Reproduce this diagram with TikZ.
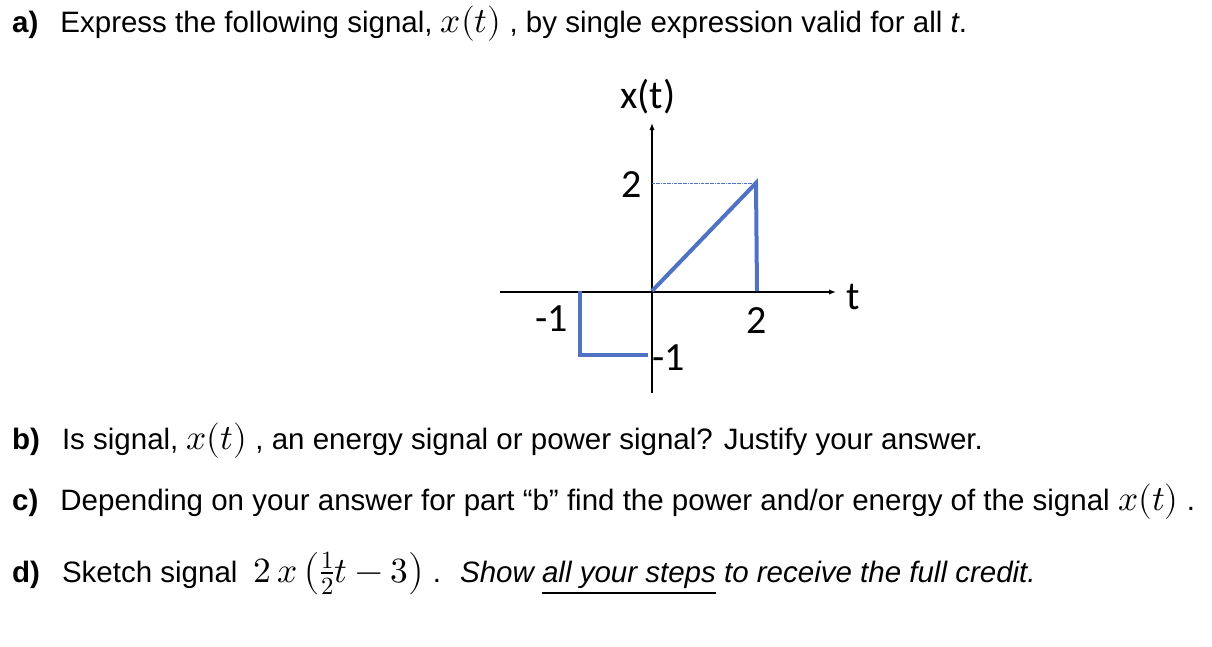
\documentclass[tikz,border=0pt]{standalone}
\usepackage{fontspec}
\setmainfont{Liberation Sans}
\newfontfamily\calfnt{Carlito}
\usepackage{unicode-math}
\setmathfont{Latin Modern Math}[Scale=1.2]
\usetikzlibrary{arrows.meta}
\begin{document}
\begin{tikzpicture}[x=1pt,y=-1pt,
  txt/.style={anchor=base west,inner sep=0pt,font=\fontsize{29.5}{34}\selectfont},
  lbl/.style={inner sep=0pt,font=\calfnt\fontsize{40}{44}\selectfont},
  sig/.style={color={rgb,255:red,79;green,114;blue,196},line width=4pt}]
\useasboundingbox (0,0) rectangle (1212,646);
\node[txt] (a) at (12,32) {\textbf{a)}\hspace{22pt}Express the following signal, $x(t)$ , by single expression valid for all \textit{t}.};
\node[txt] (b) at (12,449) {\textbf{b)}\hspace{22pt}Is signal, $x(t)$ , an energy signal or power signal? Justify your answer.};
\node[txt] (c) at (12,510) {\textbf{c)}\hspace{22pt}Depending on your answer for part “b” find the power and/or energy of the signal $x(t)$ .};
\node[txt] (d) at (12,582) {\textbf{d)}\hspace{22pt}Sketch signal \ $2\,x\left(\frac{1}{2}t-3\right)$ . \ \textit{Show \underline{all your steps} to receive the full credit.}};
% axes
\coordinate (xl) at (500,292);
\coordinate (xr) at (836,292);
\coordinate (yb) at (652,393);
\coordinate (yt) at (652,123);
\draw[line width=1.2pt,-{Latex[length=7pt]}] (xl) -- (xr);
\draw[line width=1.2pt,-{Latex[length=7pt]}] (yb) -- (yt);
\coordinate (o) at (652,291);
\coordinate (p) at (756,183);
\coordinate (q) at (757,291);
\coordinate (m1) at (580,291);
\coordinate (m2) at (580,355);
\coordinate (m3) at (648,355);
\draw[color={rgb,255:red,79;green,114;blue,196},densely dash dot,line width=0.5pt] (652,183) -- (p);
\draw[sig] (o) -- (p) -- (q);
\draw[sig] (m1) -- (m2) -- (m3);
\node[lbl] (lx) at (648,97) {x(t)};
\node[lbl] (l2) at (632,185) {2};
\node[lbl] (lm1) at (552,319) {-1};
\node[lbl] (l2b) at (757,321) {2};
\node[lbl] (lm1b) at (669,358) {-1};
\node[lbl] (lt) at (853,297) {t};
\end{tikzpicture}
\end{document}
